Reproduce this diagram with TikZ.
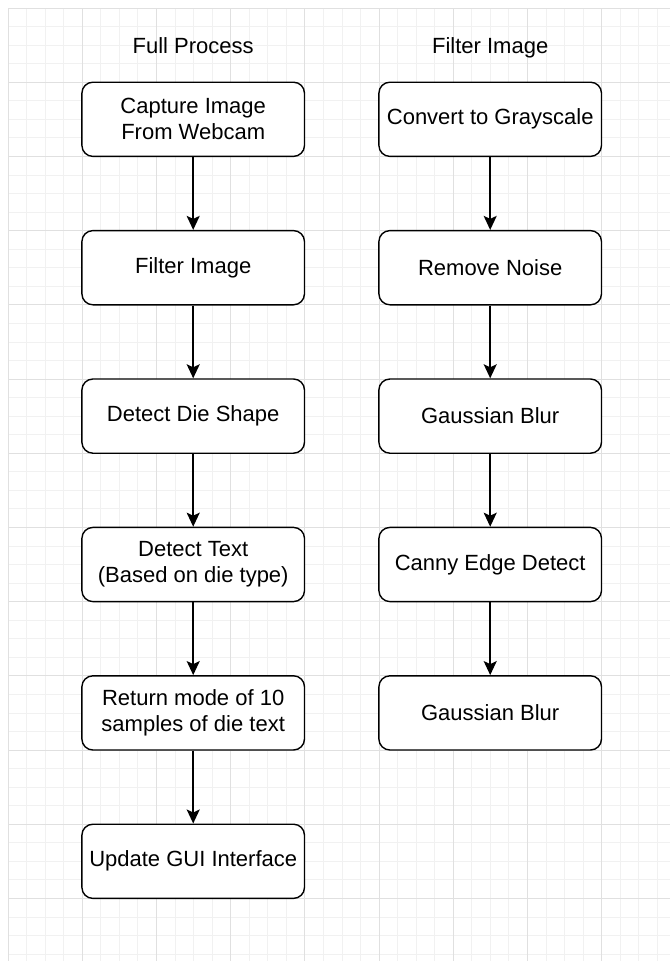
\documentclass[tikz,border=0pt]{standalone}
\usepackage{fontspec}
\setmainfont{Liberation Sans}
\usetikzlibrary{arrows.meta}

\begin{document}
\begin{tikzpicture}[x=1pt,y=-1pt,
  box/.style={draw,line width=1.4pt,rounded corners=11pt,fill=white,
    minimum width=222.6pt,minimum height=74.2pt,inner sep=2pt,align=center,
    font=\fontsize{22}{26}\selectfont},
  title/.style={anchor=base,font=\fontsize{22}{26}\selectfont},
  arr/.style={line width=1.8pt,-{Stealth[length=14pt,width=13pt,inset=3pt]}}]
\useasboundingbox[fill=white] (0,0) rectangle (670,961);
% grid
\foreach \i in {0,...,35} {
  \draw [gray!11,line width=0.8pt] (8+18.55*\i,8) -- (8+18.55*\i,961);
}
\foreach \i in {0,...,51} {
  \draw [gray!11,line width=0.8pt] (8,8+18.55*\i) -- (670,8+18.55*\i);
}
\foreach \i in {0,...,8} {
  \draw [gray!24,line width=0.8pt] (8+74.2*\i,8) -- (8+74.2*\i,961);
}
\foreach \i in {0,...,12} {
  \draw [gray!24,line width=0.8pt] (8,8+74.2*\i) -- (670,8+74.2*\i);
}
% titles
\node [title] (fulltitle) at (193.2,53) {Full Process};
\node [title] (filtertitle) at (490.2,53) {Filter Image};
% full process
\node [box] (capture) at (193.2,119.3) {Capture Image\\From Webcam};
\node [box] (filter) at (193.2,267.7) {Filter Image};
\node [box] (shape) at (193.2,416.1) {Detect Die Shape};
\node [box] (text) at (193.2,564.5) {Detect Text\\(Based on die type)};
\node [box] (mode) at (193.2,712.9) {Return mode of 10\\samples of die text};
\node [box] (gui) at (193.2,861.3) {Update GUI Interface};
% filter image
\node [box] (gray) at (490.2,119.3) {Convert to Grayscale};
\node [box] (noise) at (490.2,267.7) {Remove Noise};
\node [box] (blura) at (490.2,416.1) {Gaussian Blur};
\node [box] (canny) at (490.2,564.5) {Canny Edge Detect};
\node [box] (blurb) at (490.2,712.9) {Gaussian Blur};
% arrows
\draw [arr] (capture) -- (filter);
\draw [arr] (filter) -- (shape);
\draw [arr] (shape) -- (text);
\draw [arr] (text) -- (mode);
\draw [arr] (mode) -- (gui);
\draw [arr] (gray) -- (noise);
\draw [arr] (noise) -- (blura);
\draw [arr] (blura) -- (canny);
\draw [arr] (canny) -- (blurb);
\end{tikzpicture}
\end{document}
